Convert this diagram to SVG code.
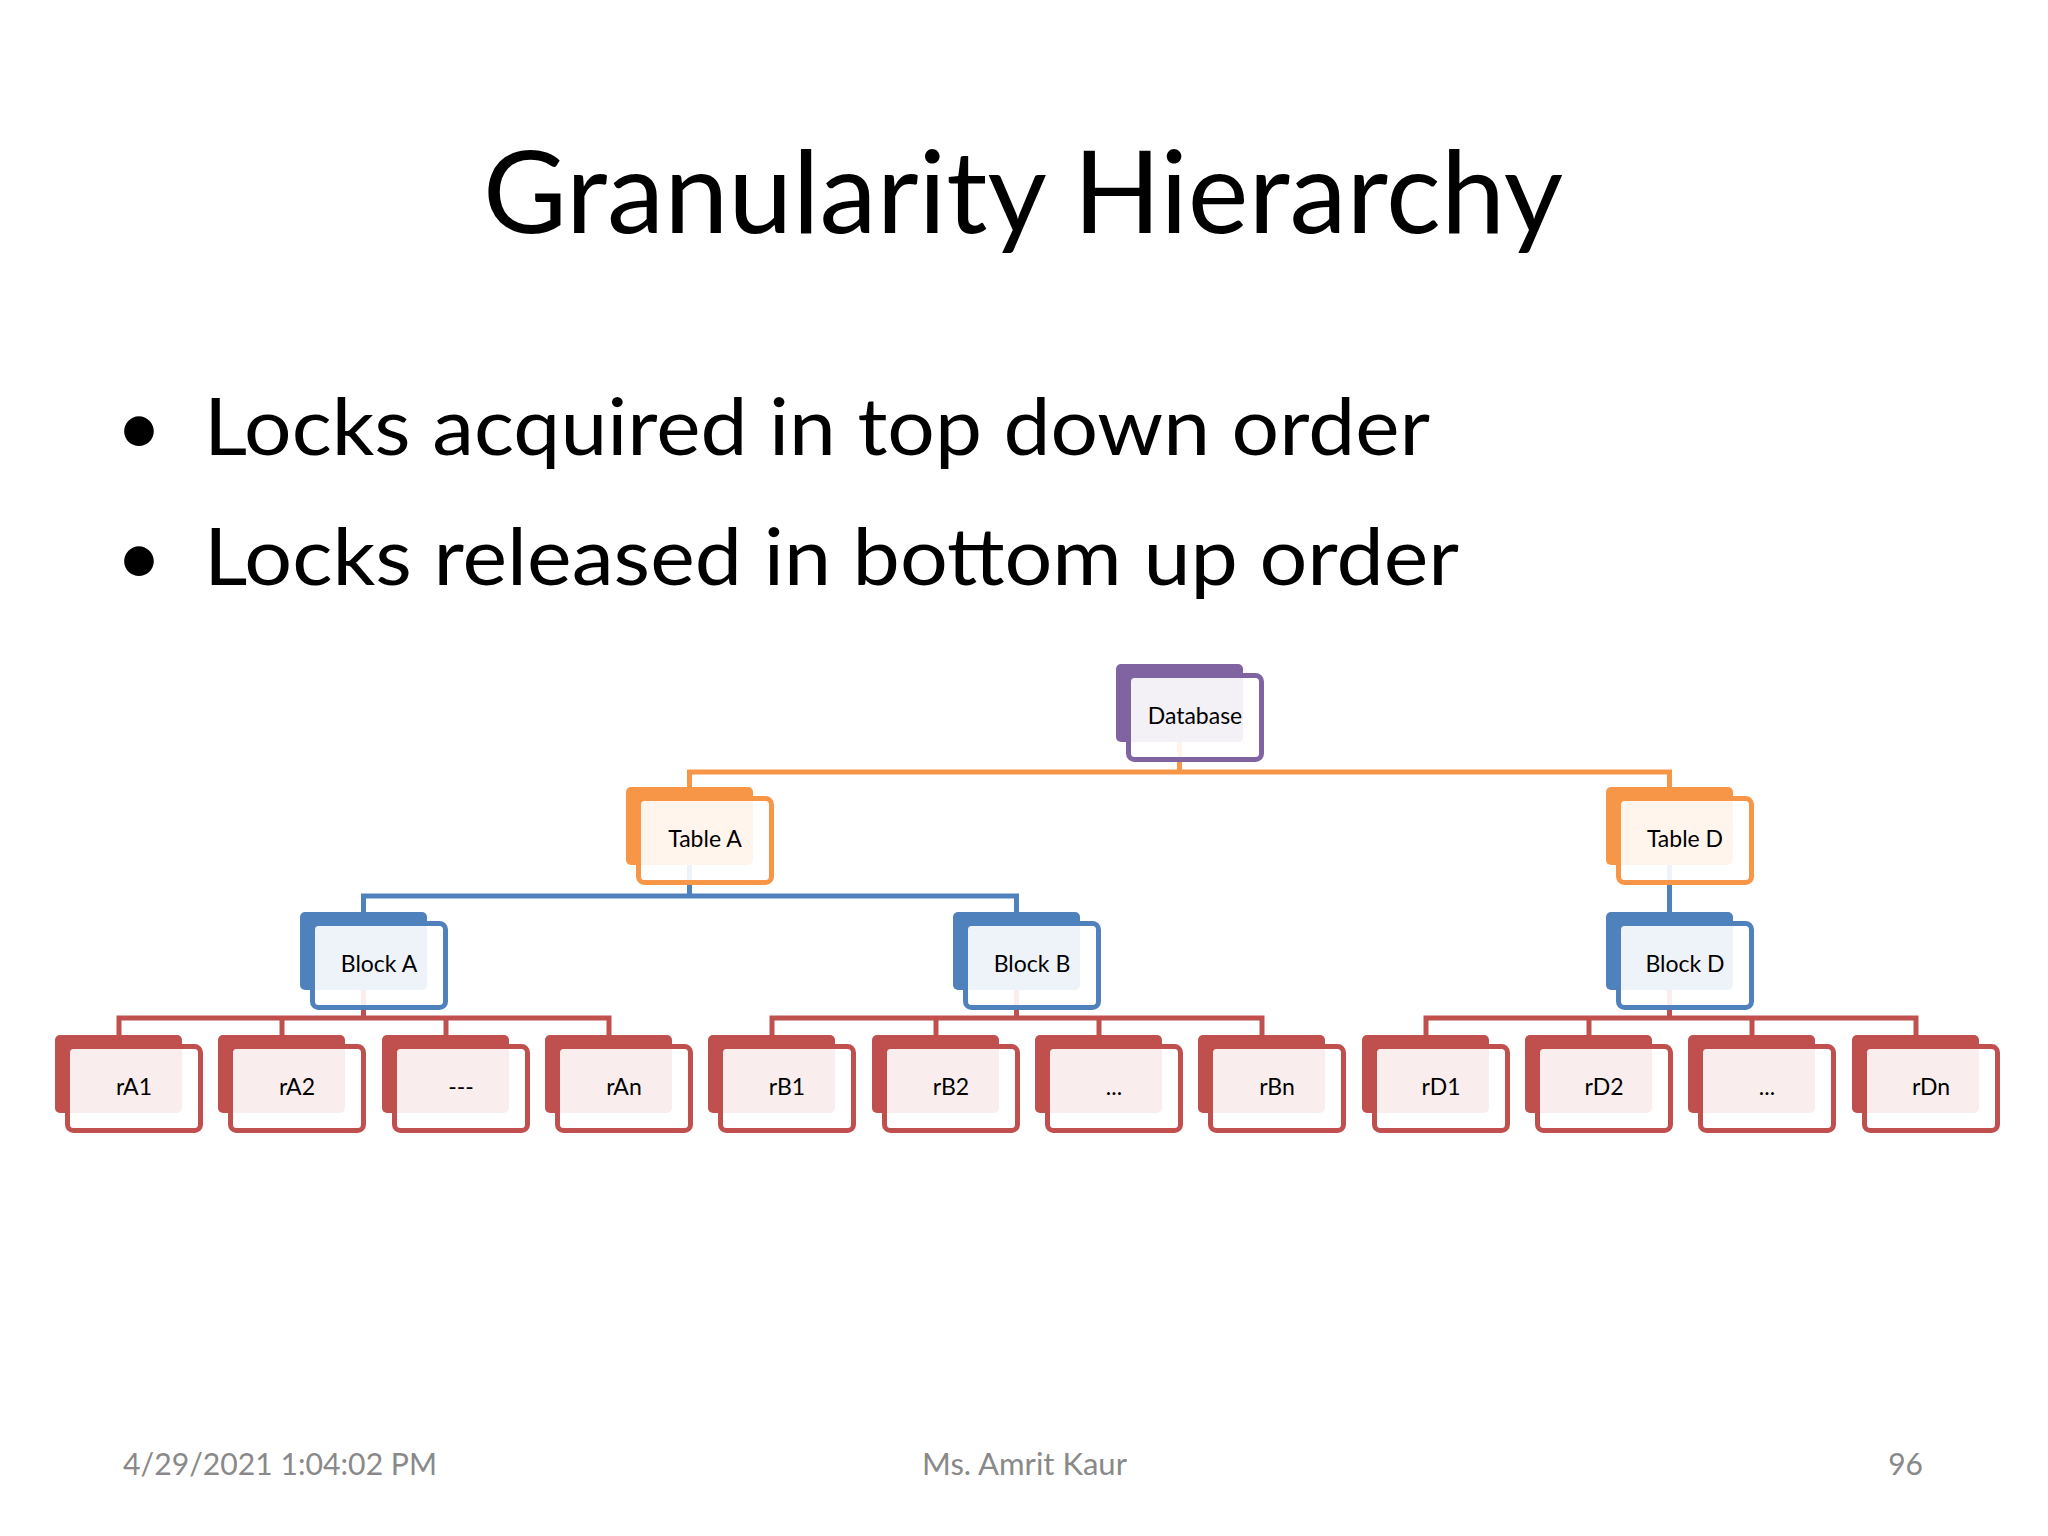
<svg xmlns="http://www.w3.org/2000/svg" width="2048" height="1536" viewBox="0 0 2048 1536">
<style>
.t{font-family:Lato,"Open Sans","Liberation Sans",sans-serif;fill:#000}
.title{font-size:114px;text-anchor:middle}
.bul{font-size:80px}
.foot{font-size:30px;fill:#898989}
.lbl{font-family:Lato,"Open Sans","Liberation Sans",sans-serif;font-size:23px;text-anchor:middle;fill:#000}
.bk{stroke:none}
.fr{fill:#fff;fill-opacity:0.9;stroke-width:5}
.p .bk{fill:#8064A2}.p .fr{stroke:#8064A2}
.o .bk{fill:#F79646}.o .fr{stroke:#F79646}
.b .bk{fill:#4F81BD}.b .fr{stroke:#4F81BD}
.r .bk{fill:#C0504D}.r .fr{stroke:#C0504D}
.c{fill:none;stroke-width:5;stroke-linejoin:miter;stroke-linecap:butt}
</style>
<rect width="2048" height="1536" fill="#fff"/>
<text class="t title" x="1023" y="233" textLength="1080" lengthAdjust="spacingAndGlyphs">Granularity Hierarchy</text>
<text class="t bul" x="139" y="455" text-anchor="middle" font-size="100">•</text>
<text class="t bul" x="204" y="455" textLength="1226" lengthAdjust="spacingAndGlyphs">Locks acquired in top down order</text>
<text class="t bul" x="139" y="585" text-anchor="middle" font-size="100">•</text>
<text class="t bul" x="204" y="585" textLength="1255" lengthAdjust="spacingAndGlyphs">Locks released in bottom up order</text>

<g id="connectors">
<path class="c" stroke="#F79646" d="M689.5 787V772H1669.5V787M1179.5 742V772"/>
<path class="c" stroke="#4F81BD" d="M363.5 912V896H1016.5V912M689.5 865V896M1669.5 865V912"/>
<path class="c" stroke="#C0504D" d="M119 1035V1018H609V1035M282 1018V1035M446 1018V1035M363.5 989V1018"/>
<path class="c" stroke="#C0504D" d="M772 1035V1018H1262V1035M936 1018V1035M1099 1018V1035M1016.5 989V1018"/>
<path class="c" stroke="#C0504D" d="M1426 1035V1018H1916V1035M1589 1018V1035M1752 1018V1035M1669.5 989V1018"/>
</g>

<g id="database" class="p"><rect class="bk" x="1116" y="664" width="127" height="78" rx="5"/><rect class="fr" x="1128.5" y="675.5" width="133" height="84" rx="6"/><text class="lbl" x="1195" y="724">Database</text></g>
<g id="tableA" class="o"><rect class="bk" x="626" y="787" width="127" height="78" rx="5"/><rect class="fr" x="638.5" y="798.5" width="133" height="84" rx="6"/><text class="lbl" x="705" y="847">Table A</text></g>
<g id="tableD" class="o"><rect class="bk" x="1606" y="787" width="127" height="78" rx="5"/><rect class="fr" x="1618.5" y="798.5" width="133" height="84" rx="6"/><text class="lbl" x="1685" y="847">Table D</text></g>
<g id="blockA" class="b"><rect class="bk" x="300" y="912" width="127" height="78" rx="5"/><rect class="fr" x="312.5" y="923.5" width="133" height="84" rx="6"/><text class="lbl" x="379" y="972">Block A</text></g>
<g id="blockB" class="b"><rect class="bk" x="953" y="912" width="127" height="78" rx="5"/><rect class="fr" x="965.5" y="923.5" width="133" height="84" rx="6"/><text class="lbl" x="1032" y="972">Block B</text></g>
<g id="blockD" class="b"><rect class="bk" x="1606" y="912" width="127" height="78" rx="5"/><rect class="fr" x="1618.5" y="923.5" width="133" height="84" rx="6"/><text class="lbl" x="1685" y="972">Block D</text></g>

<g id="rA1" class="r"><rect class="bk" x="55" y="1035" width="127" height="78" rx="5"/><rect class="fr" x="67.5" y="1046.5" width="133" height="84" rx="6"/><text class="lbl" x="134" y="1095">rA1</text></g>
<g id="rA2" class="r"><rect class="bk" x="218" y="1035" width="127" height="78" rx="5"/><rect class="fr" x="230.5" y="1046.5" width="133" height="84" rx="6"/><text class="lbl" x="297" y="1095">rA2</text></g>
<g id="rA3" class="r"><rect class="bk" x="382" y="1035" width="127" height="78" rx="5"/><rect class="fr" x="394.5" y="1046.5" width="133" height="84" rx="6"/><text class="lbl" x="461" y="1095">---</text></g>
<g id="rAn" class="r"><rect class="bk" x="545" y="1035" width="127" height="78" rx="5"/><rect class="fr" x="557.5" y="1046.5" width="133" height="84" rx="6"/><text class="lbl" x="624" y="1095">rAn</text></g>
<g id="rB1" class="r"><rect class="bk" x="708" y="1035" width="127" height="78" rx="5"/><rect class="fr" x="720.5" y="1046.5" width="133" height="84" rx="6"/><text class="lbl" x="787" y="1095">rB1</text></g>
<g id="rB2" class="r"><rect class="bk" x="872" y="1035" width="127" height="78" rx="5"/><rect class="fr" x="884.5" y="1046.5" width="133" height="84" rx="6"/><text class="lbl" x="951" y="1095">rB2</text></g>
<g id="rB3" class="r"><rect class="bk" x="1035" y="1035" width="127" height="78" rx="5"/><rect class="fr" x="1047.5" y="1046.5" width="133" height="84" rx="6"/><text class="lbl" x="1114" y="1095">...</text></g>
<g id="rBn" class="r"><rect class="bk" x="1198" y="1035" width="127" height="78" rx="5"/><rect class="fr" x="1210.5" y="1046.5" width="133" height="84" rx="6"/><text class="lbl" x="1277" y="1095">rBn</text></g>
<g id="rD1" class="r"><rect class="bk" x="1362" y="1035" width="127" height="78" rx="5"/><rect class="fr" x="1374.5" y="1046.5" width="133" height="84" rx="6"/><text class="lbl" x="1441" y="1095">rD1</text></g>
<g id="rD2" class="r"><rect class="bk" x="1525" y="1035" width="127" height="78" rx="5"/><rect class="fr" x="1537.5" y="1046.5" width="133" height="84" rx="6"/><text class="lbl" x="1604" y="1095">rD2</text></g>
<g id="rD3" class="r"><rect class="bk" x="1688" y="1035" width="127" height="78" rx="5"/><rect class="fr" x="1700.5" y="1046.5" width="133" height="84" rx="6"/><text class="lbl" x="1767" y="1095">...</text></g>
<g id="rDn" class="r"><rect class="bk" x="1852" y="1035" width="127" height="78" rx="5"/><rect class="fr" x="1864.5" y="1046.5" width="133" height="84" rx="6"/><text class="lbl" x="1931" y="1095">rDn</text></g>

<text class="t foot" x="123" y="1475" textLength="314" lengthAdjust="spacingAndGlyphs">4/29/2021 1:04:02 PM</text>
<text class="t foot" x="922" y="1475" textLength="205" lengthAdjust="spacingAndGlyphs">Ms. Amrit Kaur</text>
<text class="t foot" x="1923" y="1475" text-anchor="end">96</text>
</svg>
